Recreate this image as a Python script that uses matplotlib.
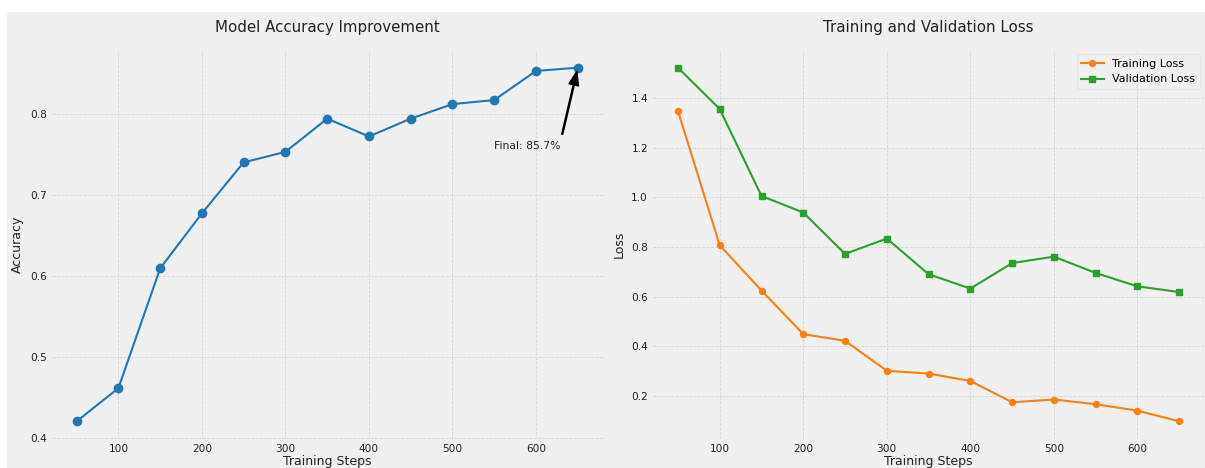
import matplotlib
matplotlib.use("Agg")
import matplotlib.pyplot as plt
from matplotlib.patches import Rectangle

# --- Data ---
steps = [50, 100, 150, 200, 250, 300, 350, 400, 450, 500, 550, 600, 650]
accuracy = [0.420, 0.461, 0.609, 0.677, 0.740, 0.753, 0.794, 0.772, 0.794, 0.812, 0.817, 0.853, 0.857]
train_loss = [1.349, 0.807, 0.624, 0.448, 0.421, 0.300, 0.289, 0.259, 0.173, 0.184, 0.165, 0.139, 0.096]
val_loss = [1.524, 1.357, 1.006, 0.939, 0.772, 0.834, 0.690, 0.632, 0.735, 0.761, 0.695, 0.641, 0.618]

BG = '#f0f0f0'
W, H = 1205, 468

plt.rcParams['font.family'] = ['DejaVu Sans']

fig = plt.figure(figsize=(W / 100, H / 100), dpi=100, facecolor='white')
# grey canvas, with the thin white strip on top and left like the reference
fig.patches.append(Rectangle((7 / W, 0), 1 - 7 / W, (H - 12) / H, transform=fig.transFigure,
                             facecolor=BG, edgecolor='none', zorder=-10))

ax1 = fig.add_axes([51.6 / W, 29 / H, 551.2 / W, 389 / H])
ax2 = fig.add_axes([652.9 / W, 29 / H, 551.4 / W, 389 / H])

for ax in (ax1, ax2):
    ax.set_facecolor(BG)
    for s in ax.spines.values():
        s.set_visible(False)
    ax.grid(True, linestyle='--', color='#cbcbcb', linewidth=0.6, alpha=0.7)
    ax.set_axisbelow(True)
    ax.tick_params(length=0, labelsize=7.6, colors='#222222', pad=3.5)
    ax.set_xticks([100, 200, 300, 400, 500, 600])

# --- Left: accuracy ---
ax1.plot(steps, accuracy, color='#1f77b4', marker='o', markersize=6, linewidth=1.5)
ax1.set_title("Model Accuracy Improvement", fontsize=10.8, pad=13, color='#222222')
ax1.set_xlabel("Training Steps", fontsize=9, labelpad=1, color='#222222')
ax1.set_ylabel("Accuracy", fontsize=9, labelpad=4, color='#222222')
ax1.set_yticks([0.4, 0.5, 0.6, 0.7, 0.8])
ax1.annotate(f"Final: {accuracy[-1]*100:.1f}%",
             xy=(steps[-1], accuracy[-1]),
             xytext=(steps[-1] - 100, accuracy[-1] - 0.1),
             fontsize=7.8, color='#222222',
             arrowprops=dict(facecolor='black', shrink=0.05, width=0.8, headwidth=7, headlength=10))

# --- Right: losses ---
ax2.plot(steps, train_loss, color='#ff7f0e', marker='o', markersize=4.3, linewidth=1.5, label='Training Loss')
ax2.plot(steps, val_loss, color='#2ca02c', marker='s', markersize=4.3, linewidth=1.5, label='Validation Loss')
ax2.set_title("Training and Validation Loss", fontsize=10.8, pad=13, color='#222222')
ax2.set_xlabel("Training Steps", fontsize=9, labelpad=1, color='#222222')
ax2.set_ylabel("Loss", fontsize=9, labelpad=4, color='#222222')
ax2.set_yticks([0.2, 0.4, 0.6, 0.8, 1.0, 1.2, 1.4])
leg = ax2.legend(loc='upper right', fontsize=8, frameon=True, facecolor=BG, edgecolor='#dddddd',
                 borderaxespad=0.4)
leg.get_frame().set_linewidth(0.6)

fig.savefig("out.png", dpi=100, facecolor='white')
